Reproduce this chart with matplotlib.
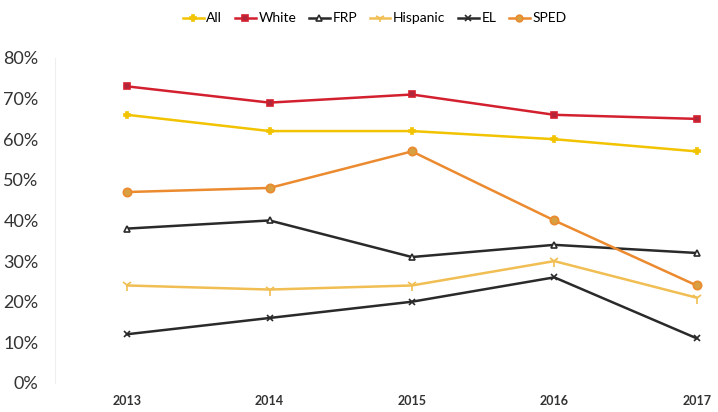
import matplotlib.pyplot as plt
from matplotlib.ticker import PercentFormatter

plt.rcParams['font.family'] = ['Lato', 'DejaVu Sans']

years = [2013, 2014, 2015, 2016, 2017]
all_students = [66, 62, 62, 60, 57]
white = [73, 69, 71, 66, 65]
frp = [38, 40, 31, 34, 32]
hispanic = [24, 23, 24, 30, 21]
el = [12, 16, 20, 26, 11]
sped = [47, 48, 57, 40, 24]

series = [
    ('All', all_students, '#F2C300', 'P', '#F2C300', 5),
    ('White', white, '#D3202F', 's', '#B0263A', 5),
    ('FRP', frp, '#2A2A2A', '^', 'white', 5),
    ('Hispanic', hispanic, '#F0BE52', '1', '#E9B030', 8),
    ('EL', el, '#2A2A2A', 'x', '#2A2A2A', 5),
    ('SPED', sped, '#EB8A2E', 'o', '#D8A040', 6),
]

fig = plt.figure(figsize=(7.18, 4.12), dpi=100)
ax = fig.add_axes([0.077, 0.0704, 0.923, 0.789])

for name, vals, color, marker, mface, msize in series:
    ax.plot(years, vals, color=color, linewidth=1.8, marker=marker,
            markersize=msize, markerfacecolor=mface, markeredgecolor=color,
            markeredgewidth=1.2, label=name, clip_on=False)

ax.set_xlim(2012.495, 2017.15)
ax.set_ylim(0, 80)
ax.set_yticks(range(0, 81, 10))
ax.yaxis.set_major_formatter(PercentFormatter(decimals=0))
ax.set_xticks(years)
ax.set_xticklabels([str(y) for y in years], fontsize=9, fontweight='bold', color='#333333')
ax.tick_params(axis='y', labelsize=13, colors='#333333', length=0, pad=12)
ax.tick_params(axis='x', length=0, pad=9)
for side in ['top', 'right', 'bottom']:
    ax.spines[side].set_visible(False)
ax.spines['left'].set_color('#EEEEEE')

fig.legend(loc='upper center', bbox_to_anchor=(0.522, 1.0), ncol=6, frameon=False,
           fontsize=10, handlelength=1.5, handletextpad=0.2, columnspacing=0.9,
           markerscale=0.8)

fig.savefig('out.png', dpi=100)
